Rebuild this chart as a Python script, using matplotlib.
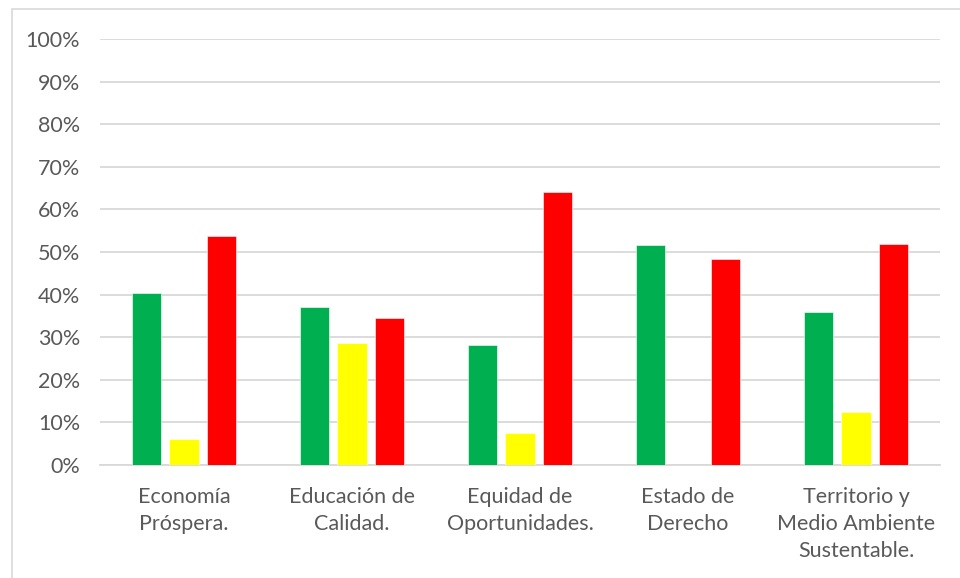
import numpy as np
import matplotlib
matplotlib.use("Agg")
import matplotlib.pyplot as plt
from matplotlib.patches import Rectangle
from matplotlib.ticker import PercentFormatter

# categories and series values (fraction of 1)
categories = ["Economía\nPróspera.", "Educación de\nCalidad.",
              "Equidad de\nOportunidades.", "Estado de\nDerecho",
              "Territorio y\nMedio Ambiente\nSustentable."]
green_vals  = [0.404, 0.371, 0.282, 0.517, 0.358]
yellow_vals = [0.060, 0.286, 0.076, 0.0,   0.125]
red_vals    = [0.538, 0.344, 0.642, 0.484, 0.518]
series_colors = ["#00B050", "#FFFF00", "#FF0000"]

plt.rcParams['font.family'] = ['Lato', 'DejaVu Sans']

fig = plt.figure(figsize=(9.6, 5.78), dpi=100)
ax = fig.add_axes([100 / 960, 1 - 465 / 578, 840 / 960, 426 / 578])

# light outer chart border (cut at right/bottom like the screenshot)
fig.patches.append(Rectangle((12 / 960, -0.05), 1.2, 1 - 9 / 578 + 0.05,
                             transform=fig.transFigure, fill=False,
                             edgecolor="#d9d9d9", linewidth=1.2))

x = np.arange(len(categories))
step = 0.223
width = 0.173
for i, (vals, col) in enumerate(zip([green_vals, yellow_vals, red_vals], series_colors)):
    ax.bar(x + (i - 1) * step, vals, width=width, color=col,
           edgecolor="white", linewidth=0.4, zorder=3)

ax.set_xlim(-0.5, len(categories) - 0.5)
ax.set_ylim(0, 1)
ax.set_yticks(np.arange(0, 1.01, 0.1))
ax.yaxis.set_major_formatter(PercentFormatter(1.0, decimals=0))
ax.grid(axis='y', color="#d9d9d9", linewidth=1.3, zorder=0)
ax.set_axisbelow(True)

for s in ['top', 'right', 'left']:
    ax.spines[s].set_visible(False)
ax.spines['bottom'].set_color("#d9d9d9")
ax.spines['bottom'].set_linewidth(1.3)

ax.set_xticks(x)
ax.set_xticklabels(categories, fontsize=15.5, color="#595959", linespacing=1.45)
ax.tick_params(axis='x', length=0, pad=15.5)
ax.tick_params(axis='y', length=0, pad=14.4, labelsize=15.5, labelcolor="#595959")

fig.savefig("out.png", dpi=100)
